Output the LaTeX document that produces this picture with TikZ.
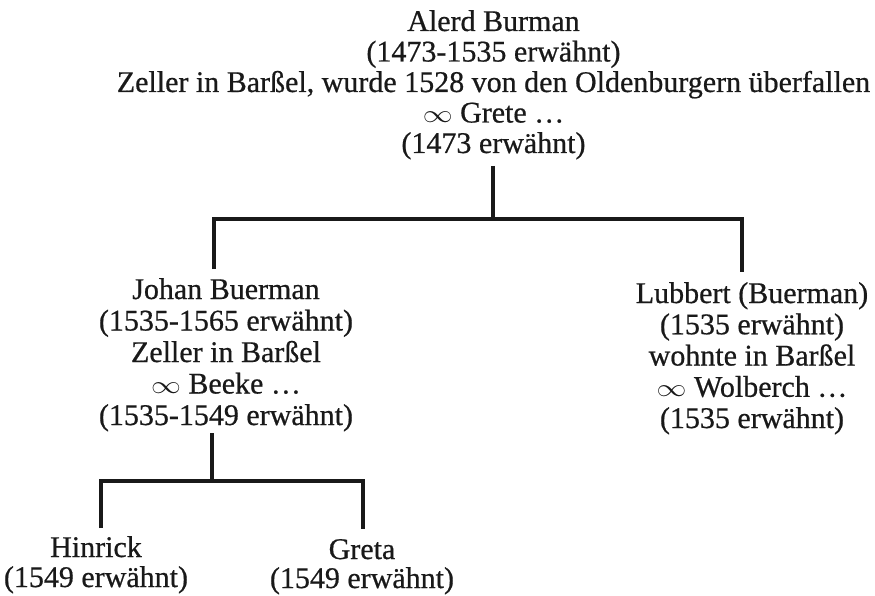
\documentclass[tikz,border=0pt]{standalone}
\usepackage{graphicx}
\usepackage{fontspec}
\setmainfont{Liberation Serif}[FakeBold=0.6]
\newcommand{\marr}{\scalebox{1.2}[1]{$\infty$}}
\begin{document}
\begin{tikzpicture}[x=1pt,y=-1pt,
  person/.style={align=center, inner sep=0pt, anchor=base, text=black!90},
  link/.style={line width=3.2pt, line cap=butt, line join=miter, draw=black!90}]
\useasboundingbox (0,0) rectangle (875,596);
\node[person, font=\fontsize{30}{30.5}\selectfont] (alerd) at (493.5,153)
  {Alerd Burman\\(1473-1535 erwähnt)\\Zeller in Barßel, wurde 1528 von den Oldenburgern überfallen\\\marr{} Grete …\\(1473 erwähnt)};
\node[person, font=\fontsize{30}{31.5}\selectfont] (johan) at (226,425)
  {Johan Buerman\\(1535-1565 erwähnt)\\Zeller in Barßel\\\marr{} Beeke …\\(1535-1549 erwähnt)};
\node[person, font=\fontsize{30}{31.25}\selectfont] (lubbert) at (752,428)
  {Lubbert (Buerman)\\(1535 erwähnt)\\wohnte in Barßel\\\marr{} Wolberch …\\(1535 erwähnt)};
\node[person, font=\fontsize{30}{30}\selectfont] (hinrick) at (96,587)
  {Hinrick\\(1549 erwähnt)};
\node[person, font=\fontsize{30}{29}\selectfont] (greta) at (362,588)
  {Greta\\(1549 erwähnt)};
\coordinate (alerd-out) at (493,166);
\coordinate (bar1) at (493,219);
\coordinate (johan-in) at (214,269);
\coordinate (lubbert-in) at (742,272);
\coordinate (johan-out) at (212,433);
\coordinate (bar2) at (212,481);
\coordinate (hinrick-in) at (101,528);
\coordinate (greta-in) at (363,529);
\draw[link] (alerd-out) -- (bar1);
\draw[link] (johan-in) |- (bar1) -| (lubbert-in);
\draw[link] (johan-out) -- (bar2);
\draw[link] (hinrick-in) |- (bar2) -| (greta-in);
\end{tikzpicture}
\end{document}
